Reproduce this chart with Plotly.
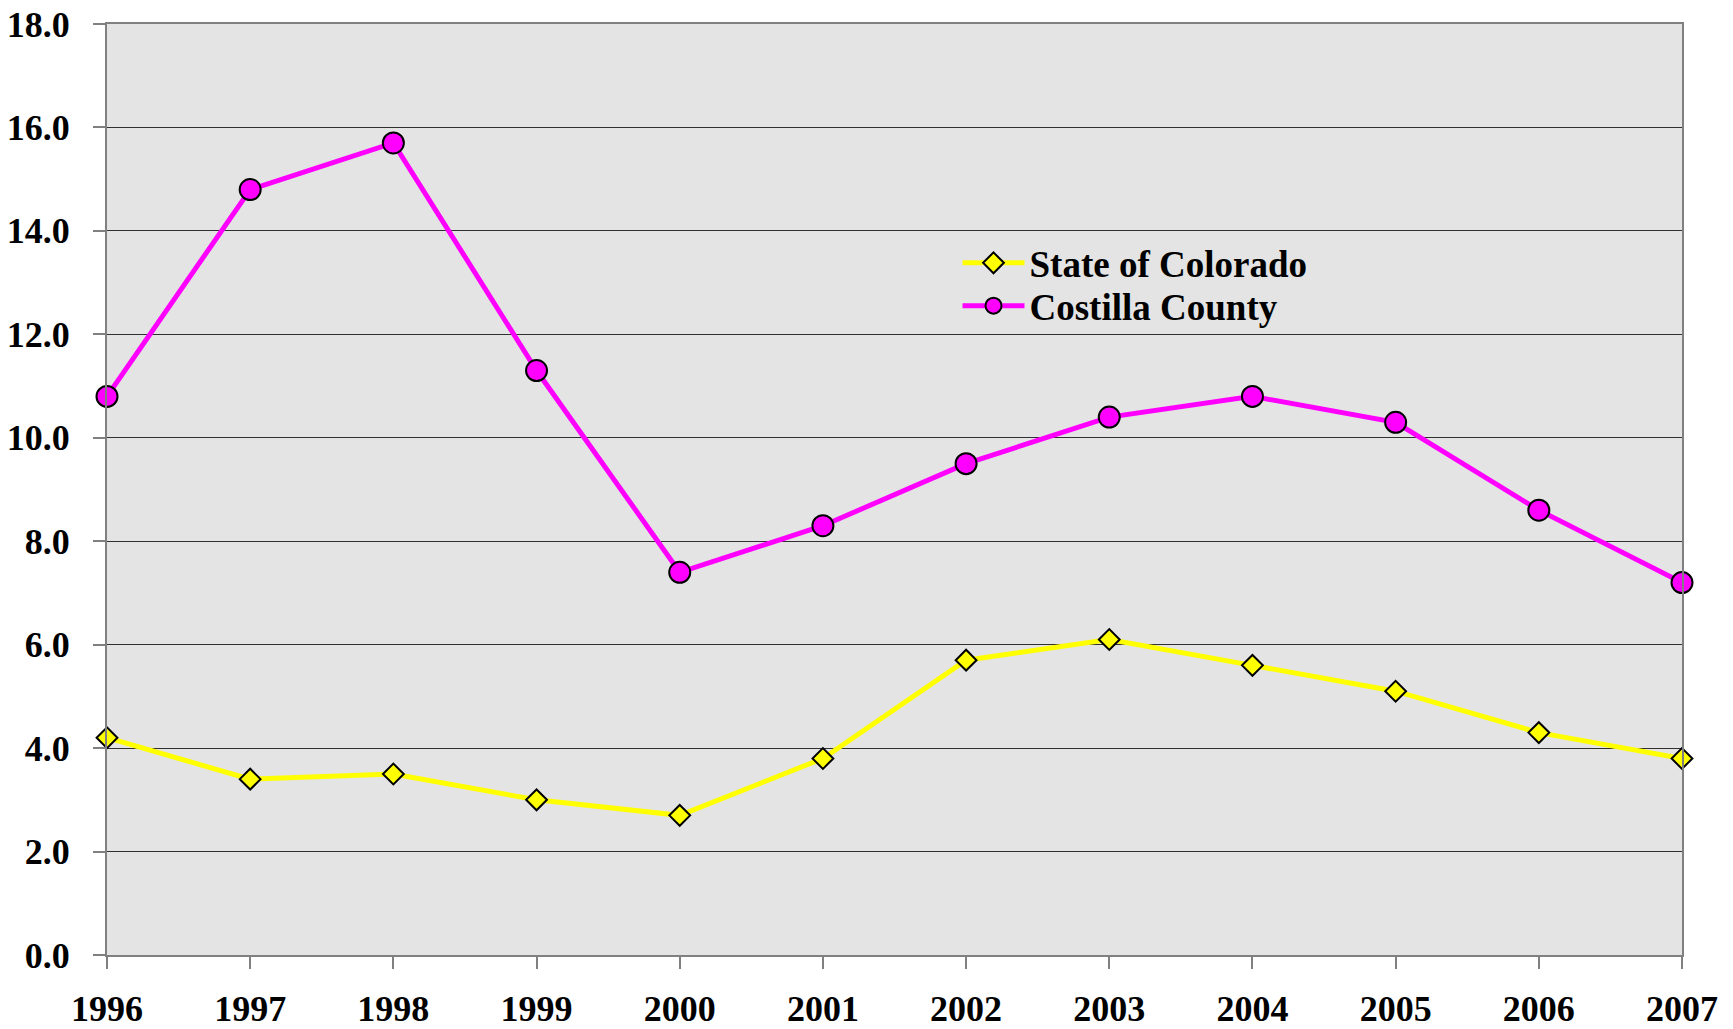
import plotly.graph_objects as go

years = [1996, 1997, 1998, 1999, 2000, 2001, 2002, 2003, 2004, 2005, 2006, 2007]
colorado = [4.2, 3.4, 3.5, 3.0, 2.7, 3.8, 5.7, 6.1, 5.6, 5.1, 4.3, 3.8]
costilla = [10.8, 14.8, 15.7, 11.3, 7.4, 8.3, 9.5, 10.4, 10.8, 10.3, 8.6, 7.2]

font_bold = dict(family="Liberation Serif", size=36, color="black", weight="bold")
legend_font = dict(family="Liberation Serif", size=37, color="black", weight="bold")

fig = go.Figure()
fig.add_trace(go.Scatter(
    x=years, y=colorado, name="State of Colorado", mode="lines+markers",
    line=dict(color="#ffff00", width=5),
    marker=dict(symbol="diamond", size=16, color="#ffff00", line=dict(color="black", width=2)),
    cliponaxis=False, legend="legend"))
fig.add_trace(go.Scatter(
    x=years, y=costilla, name="Costilla County", mode="lines+markers",
    line=dict(color="#ff00ff", width=5),
    marker=dict(symbol="circle", size=21, color="#ff00ff", line=dict(color="black", width=2)),
    cliponaxis=False, legend="legend2"))

fig.update_layout(
    width=1733, height=1029,
    margin=dict(l=107, r=51, t=24, b=74),
    paper_bgcolor="white",
    plot_bgcolor="#e4e4e4",
    showlegend=True,
    legend=dict(x=0.540, y=0.743, xanchor="left", yanchor="middle",
                bgcolor="rgba(0,0,0,0)", font=legend_font, itemwidth=62),
    legend2=dict(x=0.540, y=0.697, xanchor="left", yanchor="middle",
                 bgcolor="rgba(0,0,0,0)", font=legend_font, itemwidth=62),
)
fig.update_xaxes(
    range=[1996, 2007], tickmode="array", tickvals=years, ticktext=[str(y) for y in years],
    showgrid=False, zeroline=False, automargin=False,
    showline=True, linecolor="#808080", linewidth=2, mirror=True,
    ticks="outside", ticklen=12, tickcolor="#808080", tickwidth=2,
    tickfont=font_bold, ticklabelstandoff=9)
fig.update_yaxes(
    range=[0, 18], dtick=2, tick0=0, tickformat=".1f",
    showgrid=True, gridcolor="#303030", gridwidth=1, zeroline=False, automargin=False,
    showline=True, linecolor="#808080", linewidth=2, mirror=True,
    ticks="outside", ticklen=12, tickcolor="#808080", tickwidth=2,
    tickfont=font_bold, ticklabelstandoff=16)

# drop the default body margin so the figure fills the window exactly
fig.write_html("out.html", config={"displayModeBar": False},
               post_script="document.body.style.margin='0px';")
